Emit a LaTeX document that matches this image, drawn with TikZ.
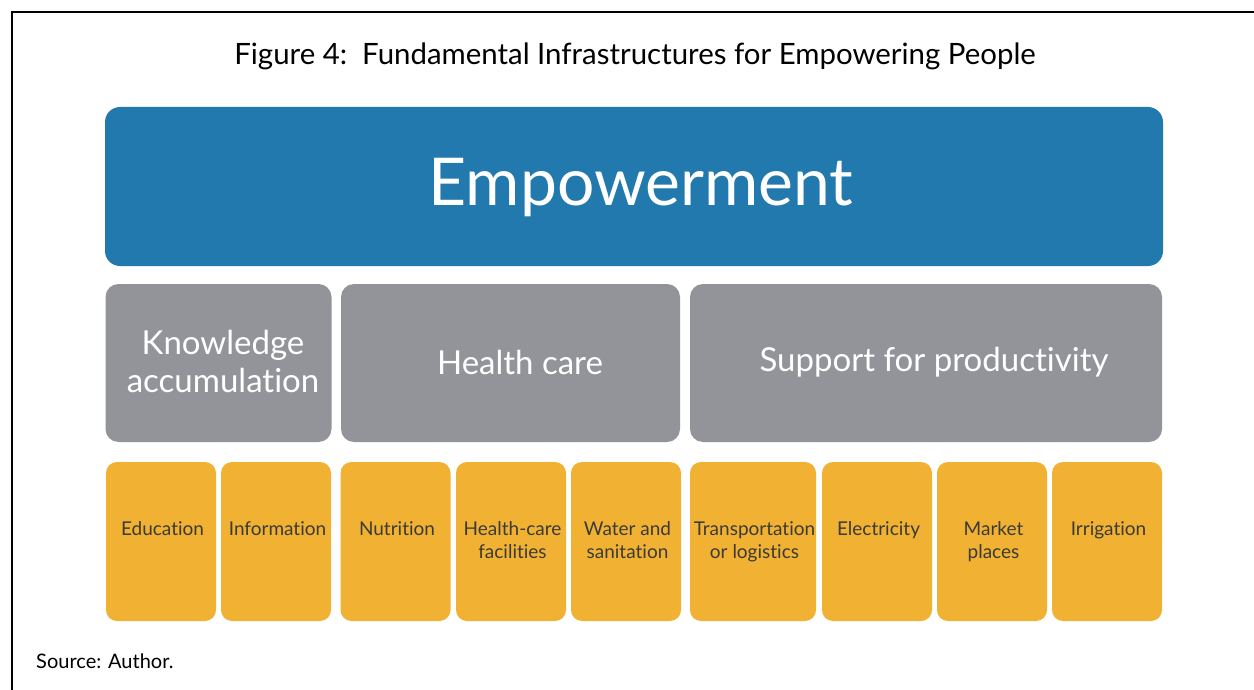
\documentclass[tikz,border=0pt]{standalone}
\usepackage{fontspec}
\setmainfont{Lato}[Ligatures={NoCommon,NoContextual},Contextuals=NoAlternate]
\usetikzlibrary{calc}
\definecolor{empblue}{HTML}{2279AE}
\definecolor{pillgray}{HTML}{929499}
\definecolor{pillyellow}{HTML}{F1B233}
\definecolor{ytextc}{HTML}{3B3A36}
\tikzset{
  x=1pt, y=-1pt,
  bluebox/.style={fill=empblue, rounded corners=15pt, inner sep=0pt, text=white},
  graybox/.style={fill=pillgray, rounded corners=13pt, inner sep=0pt, minimum height=158pt},
  graytext/.style={text=white, align=center, inner sep=0pt, font=\fontsize{33}{38}\selectfont},
  yellowbox/.style={fill=pillyellow, rounded corners=11pt, inner sep=0pt, minimum height=159pt},
  ytext/.style={text=ytextc, align=center, inner sep=0pt, anchor=north, font=\fontsize{19}{23}\selectfont},
}
\begin{document}
\begin{tikzpicture}
\useasboundingbox[fill=white] (0,0) rectangle (1254,690);
\draw[line width=2.5pt] (12,690) -- (12,12) -- (1254,12);
\node[font=\fontsize{29.4}{32}\selectfont, anchor=base] (title) at (635,65) {Figure 4:\ \ Fundamental Infrastructures for Empowering People};
\node[bluebox, minimum width=1058pt, minimum height=159pt] (emp) at (634,186.5) {};
\node[text=white, font=\fontsize{66}{70}\selectfont, anchor=base] (empt) at (641,205) {Empowerment};
% gray row
\node[graybox, minimum width=226pt] (know) at (218.5,363) {};
\node[graybox, minimum width=339pt] (health) at (510.5,363) {};
\node[graybox, minimum width=472pt] (supp) at (926,363) {};
\node[graytext] (know-t) at (223,361) {Knowledge\\accumulation};
\node[graytext] (health-t) at (520,362) {Health care};
\node[graytext] (supp-t) at (934,362) {Support for productivity};
% yellow row
\node[yellowbox, minimum width=110pt] (edu) at (161,541.5) {};
\node[yellowbox, minimum width=110pt] (info) at (276,541.5) {};
\node[yellowbox, minimum width=110pt] (nut) at (395.5,541.5) {};
\node[yellowbox, minimum width=110pt] (hcf) at (511,541.5) {};
\node[yellowbox, minimum width=110pt] (wat) at (626,541.5) {};
\node[yellowbox, minimum width=126pt] (tra) at (753,541.5) {};
\node[yellowbox, minimum width=110pt] (ele) at (877,541.5) {};
\node[yellowbox, minimum width=110pt] (mar) at (992,541.5) {};
\node[yellowbox, minimum width=110pt] (irr) at (1107,541.5) {};
\foreach \n/\t in {edu/Education, info/Information, nut/Nutrition, hcf/{Health-care\\facilities}, wat/{Water and\\sanitation}, tra/{Transportation\\or logistics}, ele/Electricity, mar/{Market\\places}, irr/Irrigation}{
  \node[ytext] (\n-t) at ($(\n.center |- 0,521.5)+(1.5,0)$) {\t};
}
\node[font=\fontsize{20}{24}\selectfont, anchor=base west, inner sep=0pt] (src) at (36,668) {Source: Author.};
\end{tikzpicture}
\end{document}
